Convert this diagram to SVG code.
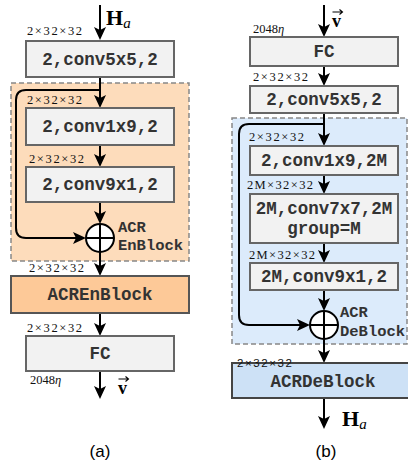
<svg xmlns="http://www.w3.org/2000/svg" width="408" height="468" viewBox="0 0 408 468">
<defs>
<marker id="ah" markerUnits="userSpaceOnUse" markerWidth="14" markerHeight="14" refX="9" refY="6" orient="auto">
<path d="M0,0 L13,6 L0,12 L3,6 z" fill="#000"/>
</marker>
<style>
.box{fill:#f2f2f2;stroke:#666;stroke-width:2}
.bt{font-family:"Liberation Mono","Courier New",monospace;font-weight:bold;font-size:17.5px;fill:#333;text-anchor:middle}
.lbl{font-family:"Liberation Mono","Courier New",monospace;font-weight:bold;font-size:15.5px;fill:#333}
.dim{font-family:"Liberation Serif","Times New Roman",serif;font-size:12.5px;fill:#111}
.dims{font-family:"Liberation Sans",Arial,sans-serif;font-size:11.5px;fill:#111}
.c{fill:none;stroke:#000;stroke-width:2}
.a{fill:none;stroke:#000;stroke-width:2;marker-end:url(#ah)}
.math{font-family:"Liberation Serif","Times New Roman",serif;font-weight:bold;font-size:22px;fill:#000}
.sub{font-family:"Liberation Serif","Times New Roman",serif;font-style:italic;font-weight:normal;font-size:15px;fill:#000}
.vec{font-family:"Liberation Serif","Times New Roman",serif;font-weight:bold;font-size:18px;fill:#000}
.va{fill:none;stroke:#000;stroke-width:1.1}
.cap{font-family:"Liberation Sans",Arial,sans-serif;font-size:17px;fill:#000;text-anchor:middle}
.dash{stroke:#888;stroke-width:1.5;stroke-dasharray:5,3}
</style>
</defs>

<!-- regions -->
<g id="enblock-region">
<rect x="11" y="83" width="178" height="178" fill="#fddcbb" class="dash"/>
</g>
<g id="deblock-region">
<rect x="232" y="118" width="175" height="226" fill="#dcebfb" class="dash"/>
</g>

<!-- connectors -->
<g id="connectors">
<!-- panel a -->
<line class="a" x1="100" y1="5" x2="100" y2="36"/>
<line class="a" x1="100" y1="77" x2="100" y2="104"/>
<path class="a" d="M100,90 H26 Q16,90 16,100 V228 Q16,238 26,238 H82"/>
<line class="a" x1="100" y1="145" x2="100" y2="163"/>
<line class="a" x1="100" y1="202" x2="100" y2="220"/>
<line class="a" x1="100" y1="252" x2="100" y2="272"/>
<line class="a" x1="100" y1="313" x2="100" y2="332"/>
<line class="a" x1="100" y1="371" x2="100" y2="395"/>
<!-- panel b -->
<line class="a" x1="324" y1="5" x2="324" y2="33"/>
<line class="a" x1="324" y1="66" x2="324" y2="82"/>
<line class="a" x1="324" y1="113" x2="324" y2="142"/>
<path class="a" d="M324,124 H249 Q239,124 239,134 V315 Q239,325 249,325 H306"/>
<line class="a" x1="324" y1="175" x2="324" y2="190"/>
<line class="a" x1="324" y1="243" x2="324" y2="259"/>
<line class="a" x1="324" y1="290" x2="324" y2="307"/>
<line class="a" x1="324" y1="339" x2="324" y2="359"/>
<line class="a" x1="324" y1="398" x2="324" y2="425"/>
</g>

<!-- panel a nodes -->
<g id="a-conv5x5">
<rect class="box" x="26" y="41" width="148" height="36"/>
<text class="bt" x="100" y="65">2,conv5x5,2</text>
</g>
<g id="a-conv1x9">
<rect class="box" x="26" y="108" width="148" height="37"/>
<text class="bt" x="100" y="132">2,conv1x9,2</text>
</g>
<g id="a-conv9x1">
<rect class="box" x="26" y="167" width="148" height="35"/>
<text class="bt" x="100" y="190">2,conv9x1,2</text>
</g>
<g id="a-sum">
<circle cx="100" cy="238" r="14" fill="#fff" stroke="#000" stroke-width="2"/>
<line class="c" x1="86" y1="238" x2="114" y2="238"/>
<line class="c" x1="100" y1="224" x2="100" y2="252"/>
<text class="lbl" x="118" y="232">ACR</text>
<text class="lbl" x="118" y="250">EnBlock</text>
</g>
<g id="a-acrenblock">
<rect x="11" y="276" width="178" height="37" fill="#fdc998" stroke="#555" stroke-width="2"/>
<text class="bt" x="100" y="300">ACREnBlock</text>
</g>
<g id="a-fc">
<rect class="box" x="26" y="336" width="148" height="35"/>
<text class="bt" x="100" y="359">FC</text>
</g>

<!-- panel a labels -->
<g id="a-labels">
<text class="math" x="106" y="25">H<tspan class="sub" dy="3">a</tspan></text>
<text class="dim" x="27" y="35" textLength="55" lengthAdjust="spacing">2×32×32</text>
<text class="dim" x="27" y="104" textLength="55" lengthAdjust="spacing">2×32×32</text>
<text class="dim" x="29" y="163" textLength="55" lengthAdjust="spacing">2×32×32</text>
<text class="dim" x="29" y="272" textLength="55" lengthAdjust="spacing">2×32×32</text>
<text class="dim" x="27" y="332" textLength="55" lengthAdjust="spacing">2×32×32</text>
<text class="dim" x="30" y="384">2048<tspan font-style="italic">η</tspan></text>
<text class="vec" x="118" y="394">v</text>
<path class="va" d="M118.5,379 H128 M125.5,376.5 L128.5,379 L125.5,381.5"/>
<text class="cap" x="100" y="457">(a)</text>
</g>

<!-- panel b nodes -->
<g id="b-fc">
<rect class="box" x="250" y="37" width="148" height="29"/>
<text class="bt" x="324" y="57">FC</text>
</g>
<g id="b-conv5x5">
<rect class="box" x="250" y="86" width="148" height="27"/>
<text class="bt" x="324" y="105">2,conv5x5,2</text>
</g>
<g id="b-conv1x9">
<rect class="box" x="250" y="146" width="148" height="29"/>
<text class="bt" x="324" y="166">2,conv1x9,2M</text>
</g>
<g id="b-conv7x7">
<rect class="box" x="250" y="194" width="148" height="49"/>
<text class="bt" x="324" y="214">2M,conv7x7,2M</text>
<text class="bt" x="324" y="234">group=M</text>
</g>
<g id="b-conv9x1">
<rect class="box" x="250" y="263" width="148" height="27"/>
<text class="bt" x="324" y="282">2M,conv9x1,2</text>
</g>
<g id="b-sum">
<circle cx="324" cy="325" r="14" fill="#fff" stroke="#000" stroke-width="2"/>
<line class="c" x1="310" y1="325" x2="338" y2="325"/>
<line class="c" x1="324" y1="311" x2="324" y2="339"/>
<text class="lbl" x="340" y="317">ACR</text>
<text class="lbl" x="340" y="336">DeBlock</text>
</g>
<g id="b-acrdeblock">
<rect x="232" y="363" width="178" height="35" fill="#cde1f6" stroke="#444" stroke-width="2"/>
<text class="bt" x="323" y="387">ACRDeBlock</text>
</g>

<!-- panel b labels -->
<g id="b-labels">
<text class="vec" x="332" y="27">v</text>
<path class="va" d="M332.5,12 H342 M339.5,9.5 L342.5,12 L339.5,14.5"/>
<text class="dim" x="253" y="33">2048<tspan font-style="italic">η</tspan></text>
<text class="dim" x="253" y="81" textLength="55" lengthAdjust="spacing">2×32×32</text>
<text class="dim" x="249" y="141" textLength="55" lengthAdjust="spacing">2×32×32</text>
<text class="dim" x="247" y="189" textLength="66" lengthAdjust="spacing">2M×32×32</text>
<text class="dim" x="249" y="259" textLength="66" lengthAdjust="spacing">2M×32×32</text>
<text class="dims" x="237" y="367" textLength="55" lengthAdjust="spacing">2×32×32</text>
<text class="math" x="342" y="426">H<tspan class="sub" dy="3">a</tspan></text>
<text class="cap" x="326" y="457">(b)</text>
</g>
</svg>
